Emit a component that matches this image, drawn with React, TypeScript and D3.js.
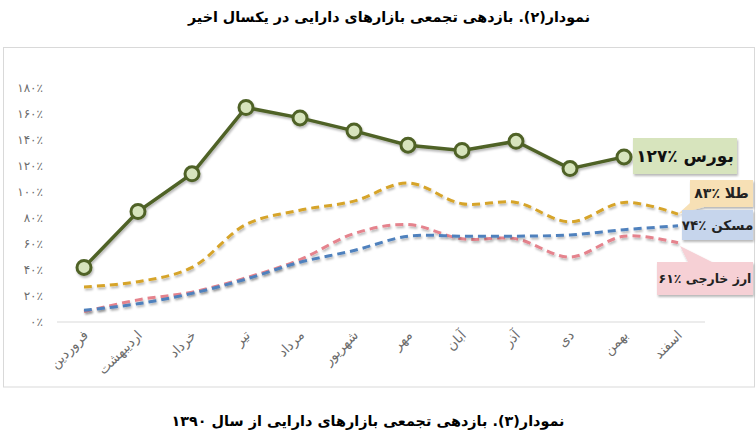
import React from "react";
import * as d3 from "d3";

const months = ["فروردین", "اردیبهشت", "خرداد", "تیر", "مرداد", "شهریور", "مهر", "آبان", "آذر", "دی", "بهمن", "اسفند"];
const bourse = [42, 85, 114, 165, 157, 147, 136, 132, 139, 118, 127];
const gold = [27, 31, 42, 75, 86, 93, 107, 91, 92, 77, 92, 83];
const housing = [9, 14, 22, 33, 46, 55, 66, 66, 66, 67, 71, 74];
const forex = [8, 17, 23, 34, 48, 68, 75, 64, 64, 50, 66, 61];
const yTicks = [0, 20, 40, 60, 80, 100, 120, 140, 160, 180];

const seriesLabels = ["بورس", "طلا", "مسکن", "ارز خارجی"];
const finalValues = [127, 83, 74, 61];

const title = "نمودار(۲). بازدهی تجمعی بازارهای دارایی در یکسال اخیر";
const caption = "نمودار(۳). بازدهی تجمعی بازارهای دارایی از سال ۱۳۹۰";

const fa = (n: number) => String(n).replace(/\d/g, (d) => "۰۱۲۳۴۵۶۷۸۹"[+d]);

const FONT = "'DejaVu Sans', sans-serif";

export default function App() {
  const W = 756, H = 438;
  const x = d3.scaleBand<string>().domain(months).range([57, 705]).padding(0);
  const cx = (i: number) => (x(months[i]) as number) + x.bandwidth() / 2;
  const y = d3.scaleLinear().domain([0, 180]).range([322, 88]);

  const smooth = d3
    .line<number>()
    .x((_, i) => cx(i))
    .y((v) => y(v))
    .curve(d3.curveCatmullRom.alpha(0.5));
  const straight = d3
    .line<number>()
    .x((_, i) => cx(i))
    .y((v) => y(v));

  const dashed = [
    { data: forex, color: "#e5838d" },
    { data: housing, color: "#4f81bd" },
    { data: gold, color: "#d6a42a" },
  ];

  return (
    <svg
      width={W}
      height={H}
      style={{ position: "absolute", left: 0, top: 0, background: "#fff" }}
      fontFamily={FONT}
    >
      <defs>
        <filter id="sh" x="-20%" y="-20%" width="140%" height="140%">
          <feDropShadow dx="1" dy="2" stdDeviation="1.3" floodColor="#000" floodOpacity="0.28" />
        </filter>
      </defs>
      <rect x={0} y={0} width={W} height={H} fill="#fff" />
      <text x={389} y={22} textAnchor="middle" direction="rtl" fontSize={14.3} fontWeight="bold" fill="#000">
        {title}
      </text>
      <rect x={3.5} y={47.5} width={751} height={339.5} fill="#fff" stroke="#d9d9d9" strokeWidth={1} />

      {/* y axis labels */}
      {yTicks.map((t) => (
        <text key={t} x={43} y={y(t)} dy="0.35em" textAnchor="end" fontSize={12} letterSpacing={1.5} fill="#6b6b6b">
          {fa(t) + "٪"}
        </text>
      ))}
      {/* x axis line */}
      <line x1={57} x2={705} y1={y(0)} y2={y(0)} stroke="#d9d9d9" strokeWidth={1.2} />

      {/* x labels */}
      {months.map((m, i) => (
        <text
          key={m}
          transform={`translate(${cx(i) + 5},${336}) rotate(-45)`}
          textAnchor="end"
          fontSize={13.5}
          fill="#6b6b6b"
        >
          {m}
        </text>
      ))}

      {/* dashed smooth series */}
      {dashed.map((s, k) => (
        <path
          key={k}
          d={smooth(s.data) as string}
          fill="none"
          stroke={s.color}
          strokeWidth={3}
          strokeDasharray="8,5"
          filter="url(#sh)"
        />
      ))}

      {/* bourse */}
      <g filter="url(#sh)">
        <path d={straight(bourse) as string} fill="none" stroke="#4f6228" strokeWidth={3.5} />
        {bourse.map((v, i) => (
          <circle key={i} cx={cx(i)} cy={y(v)} r={7} fill="#d7e4bd" stroke="#4f6228" strokeWidth={3} />
        ))}
      </g>

      {/* labels */}
      <g filter="url(#sh)">
        <rect x={633} y={138} width={104} height={36} fill="#d7e4bd" />
        <polygon points="678,214 690,203 704,207" fill="#f7e0b5" />
        <rect x={690} y={180} width={63} height={27} fill="#f7e0b5" />
        <rect x={682} y={210} width={71} height={30} fill="#c6d5ec" />
        <polygon points="680,246 688,262 712,262" fill="#f6d0d5" />
        <rect x={657} y={262} width={96} height={33} fill="#f6d0d5" />
      </g>
      <text x={685} y={156} dy="0.35em" textAnchor="middle" direction="rtl" fontSize={17} fontWeight="bold" fill="#111">
        {seriesLabels[0] + " ٪" + fa(finalValues[0])}
      </text>
      <text x={721.5} y={193.5} dy="0.35em" textAnchor="middle" direction="rtl" fontSize={14} fontWeight="bold" fill="#222">
        {seriesLabels[1] + " ٪" + fa(finalValues[1])}
      </text>
      <text x={717.5} y={225} dy="0.35em" textAnchor="middle" direction="rtl" fontSize={13.5} fontWeight="bold" fill="#222">
        {seriesLabels[2] + " ٪" + fa(finalValues[2])}
      </text>
      <text x={705} y={278.5} dy="0.35em" textAnchor="middle" direction="rtl" fontSize={12.5} fontWeight="bold" fill="#222">
        {seriesLabels[3] + " ٪" + fa(finalValues[3])}
      </text>

      <text x={368} y={426} textAnchor="middle" direction="rtl" fontSize={14.4} fontWeight="bold" fill="#000">
        {caption}
      </text>
    </svg>
  );
}
